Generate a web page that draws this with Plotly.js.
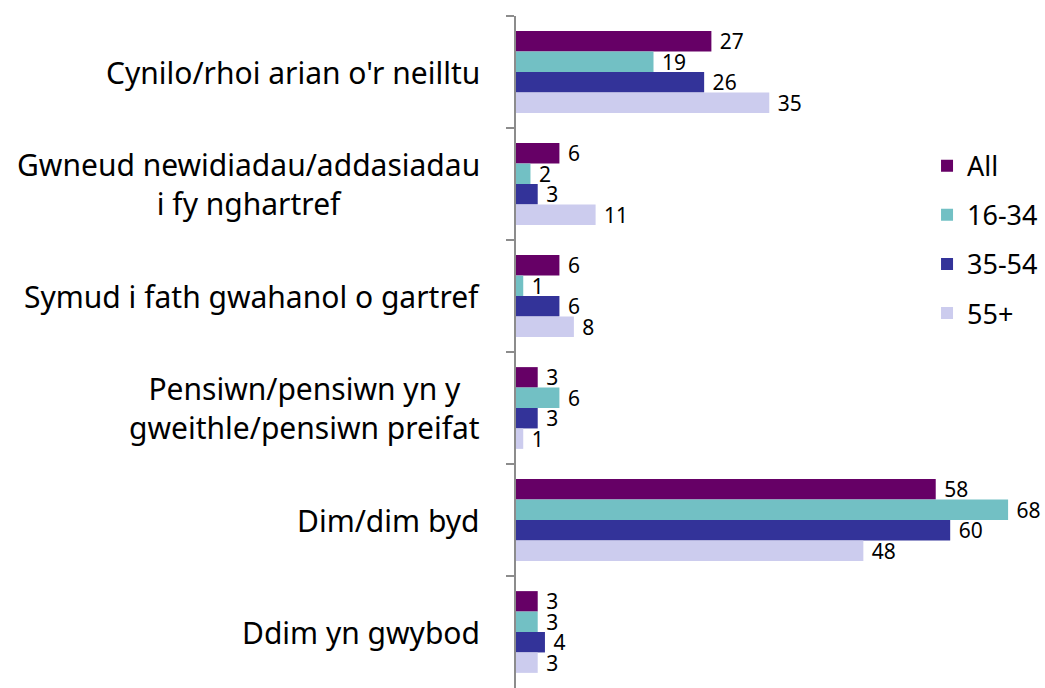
<!DOCTYPE html>
<html>
<head>
<meta charset="utf-8">
<script src="https://cdn.plot.ly/plotly-3.0.1.min.js"></script>
<style>
  html, body { margin: 0; padding: 0; background: #fff; }
  #chart { width: 1045px; height: 688px; }
</style>
</head>
<body>
<div id="chart"></div>
<script>
// answers, top to bottom
var categories = [
    "Cynilo/rhoi arian o'r neilltu",
    "Gwneud newidiadau/addasiadau<br>i fy nghartref",
    "Symud i fath gwahanol o gartref",
    "Pensiwn/pensiwn yn y<br>gweithle/pensiwn preifat",
    "Dim/dim byd",
    "Ddim yn gwybod"
];

var series_names = ["All", "16-34", "35-54", "55+"];
var all_values = [27, 6, 6, 3, 58, 3];
var age_16_34 = [19, 2, 1, 6, 68, 3];
var age_35_54 = [26, 3, 6, 3, 60, 4];
var age_55_plus = [35, 11, 8, 1, 48, 3];

var colours = ["#660066", "#72c0c4", "#333399", "#ccccee"];
var values = [all_values, age_16_34, age_35_54, age_55_plus];

var data = [];
for (var i = 0; i < values.length; i++) {
    data.push({
        type: 'bar',
        orientation: 'h',
        name: series_names[i],
        legendgroup: 'g' + i,
        x: values[i],
        y: categories,
        // leading space gives the gap between bar end and label
        text: values[i].map(function(v) { return ' ' + v; }),
        textposition: 'outside',
        constraintext: 'none',
        textfont: { family: 'Noto Sans, sans-serif', size: 21, color: '#000' },
        marker: { color: colours[i] },
        cliponaxis: false,
        hoverinfo: 'x+name'
    });
}

// category labels as centred annotations (multi-line text is centred in the picture)
var annotations = categories.map(function(c) {
    return {
        xref: 'paper', yref: 'y',
        x: 0, y: c,
        xanchor: 'right', yanchor: 'middle',
        xshift: -34,
        text: c,
        align: 'center',
        showarrow: false,
        font: { family: 'Noto Sans, sans-serif', size: 30, color: '#000' }
    };
});

var layout = {
    width: 1045,
    height: 688,
    margin: { l: 516, r: 0, t: 16, b: 0 },
    paper_bgcolor: '#fff',
    plot_bgcolor: '#fff',
    barmode: 'group',
    bargap: 0.27,
    bargroupgap: 0,
    showlegend: true,
    legend: {
        x: 0.777, y: 0.813,
        xanchor: 'left', yanchor: 'top',
        traceorder: 'grouped',
        tracegroupgap: 11,
        font: { family: 'Noto Sans, sans-serif', size: 27, color: '#000' },
        bgcolor: 'rgba(0,0,0,0)'
    },
    xaxis: {
        range: [0, 73.1],
        showgrid: false,
        zeroline: false,
        showticklabels: false,
        showline: false,
        ticks: ''
    },
    yaxis: {
        autorange: 'reversed',
        type: 'category',
        showgrid: false,
        showticklabels: false,
        showline: true,
        linecolor: '#8c8c8c',
        linewidth: 1.5,
        ticks: 'outside',
        tickson: 'boundaries',
        ticklen: 8,
        tickcolor: '#8c8c8c',
        tickwidth: 1.5
    },
    annotations: annotations
};

Plotly.newPlot('chart', data, layout, { displayModeBar: false });
</script>
</body>
</html>
